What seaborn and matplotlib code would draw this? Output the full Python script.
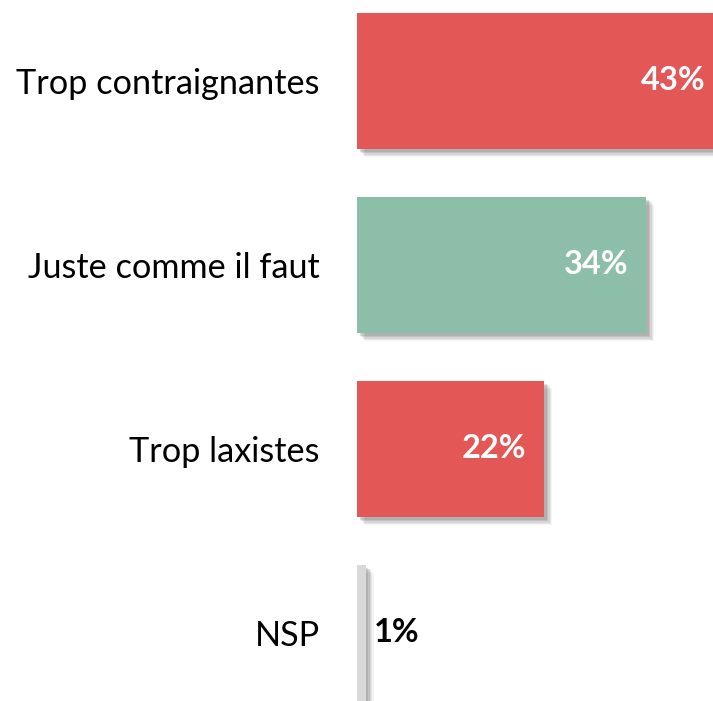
import matplotlib

matplotlib.use("Agg")

import matplotlib.patheffects as pe
import matplotlib.pyplot as plt
import pandas as pd
import seaborn as sns

categories = ["Trop contraignantes", "Juste comme il faut", "Trop laxistes", "NSP"]
values = [43, 34, 22, 1]
bar_colors = ["#E35757", "#8DBEAA", "#E35757", "#D9D9D9"]
label_colors = ["white", "white", "white", "black"]

df = pd.DataFrame({"categorie": categories, "pct": values})

sns.set_theme(style="white")
plt.rcParams["font.family"] = ["Lato", "DejaVu Sans"]

fig = plt.figure(figsize=(7.13, 7.01), dpi=100)
ax = fig.add_axes([357 / 713, 0.0, 1 - 357 / 713, 1.0])

sns.barplot(
    data=df,
    x="pct",
    y="categorie",
    hue="categorie",
    palette=bar_colors,
    saturation=1,
    width=0.74,
    legend=False,
    ax=ax,
)

# soft drop shadow, stacked a few times to fake a blur
shadow = [
    pe.SimplePatchShadow(offset=(d, -d), shadow_rgbFace="#7f7f7f", alpha=a)
    for d, a in ((6, 0.08), (5, 0.12), (4, 0.16), (3, 0.22), (2, 0.25))
] + [pe.Normal()]
for patch in ax.patches:
    patch.set_path_effects(shadow)
    patch.set_linewidth(0)

for i, (v, col) in enumerate(zip(values, label_colors)):
    if v >= 5:
        ax.text(v - 2.05, i, f"{v}%", ha="right", va="center", color=col,
                fontsize=23.5, fontweight="bold")
    else:
        ax.text(v + 0.95, i, f"{v}%", ha="left", va="center", color=col,
                fontsize=23.5, fontweight="bold")

ax.set_xlim(0, 356 / 8.5)
ax.set_ylim(3.37, -0.44)
ax.set_xlabel("")
ax.set_ylabel("")
ax.set_xticks([])
ax.tick_params(axis="y", length=0, pad=27, labelsize=24.7, labelcolor="black")
for side in ax.spines.values():
    side.set_visible(False)

fig.savefig("out.png", dpi=100)
